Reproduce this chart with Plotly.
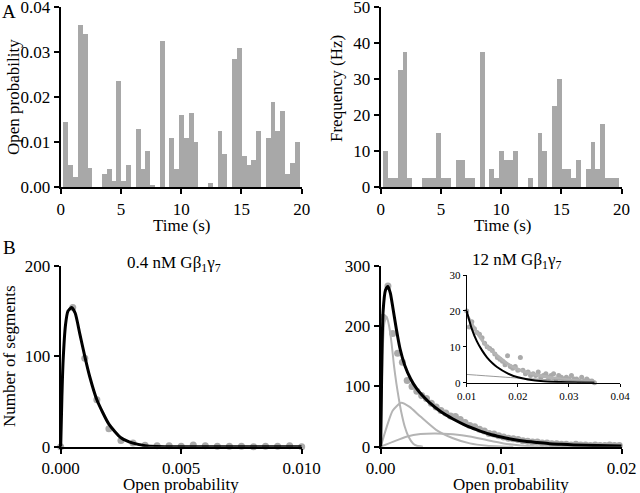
import plotly.graph_objects as go

# ---------------- Panel A data (0.4 s bins) ----------------
time_s = [round(0.4 * k, 1) for k in range(1, 51)]
open_prob = [0.0145, 0.0049, 0.0022, 0.0360, 0.0341, 0.0043, 0, 0,
             0.0029, 0.0039, 0.0013, 0.0235, 0.0013, 0.0049, 0,
             0.0129, 0.0039, 0.0079, 0.0003, 0,
             0.0325, 0,
             0.0109, 0.0039, 0.0159, 0.0109, 0.0164, 0.0099, 0, 0,
             0.0008, 0,
             0.0124, 0.0074, 0,
             0.0284, 0.0310, 0.0069, 0.0049, 0.0059, 0.0124, 0,
             0.0109, 0.0189, 0.0124, 0.0169, 0.0029, 0.0054, 0.0099, 0]
freq_hz = [10, 2.5, 2.5, 32.5, 37.5, 2.5, 0, 0,
           2.5, 2.5, 2.5, 15, 2.5, 2.5, 0,
           7.5, 7.5, 2.5, 2.5, 0,
           37.5, 0,
           5, 2.5, 10, 7.5, 7.5, 10, 0, 0,
           2.5, 0,
           15, 10, 0,
           22.5, 30, 5, 5, 2.5, 7.5, 0,
           5, 12.5, 5, 17.5, 2.5, 2.5, 2.5, 0]

# ---------------- Panel B left: 0.4 nM ----------------
po_low = [0.0, 0.0005, 0.001, 0.0015, 0.002, 0.0025, 0.003, 0.0035, 0.004, 0.0045,
          0.005, 0.0055, 0.006, 0.0065, 0.007, 0.0075, 0.008, 0.0085, 0.009, 0.0095, 0.01]
n_low = [0, 154, 98, 52, 20, 7, 4, 1.5, 1, 1,
         0.5, 2, 1, 0.5, 0.5, 0.5, 0, 0.5, 0.5, 1, 0]
fit_low_x = [0, 0.00005, 0.0001, 0.0002, 0.0003, 0.00045, 0.0006, 0.0008, 0.001, 0.0012,
             0.0015, 0.002, 0.0025, 0.003, 0.0035, 0.004, 0.005, 0.01]
fit_low_y = [0, 55, 95, 135, 150, 154, 148, 124, 100, 78,
             52, 25, 10, 4, 1.2, 0.3, 0, 0]

# ---------------- Panel B right: 12 nM ----------------
po_high = [round(0.0002 + 0.0004 * i, 4) for i in range(50)]
n_high = [215, 267, 188, 155, 140, 110, 100, 92, 85, 80,
          72, 66, 60, 56, 51, 50, 45, 40, 35, 33,
          29, 26, 22, 21, 18, 16, 14, 13, 12, 10,
          9, 8, 8, 6, 6, 5, 5, 4, 4, 3,
          4, 3, 3, 2, 3, 2, 2, 3, 2, 2]
fit_high_x = [0, 0.0001, 0.0002, 0.0004, 0.0006, 0.0008, 0.001, 0.0013, 0.0016, 0.002,
              0.0025, 0.003, 0.0035, 0.004, 0.005, 0.006, 0.007, 0.008, 0.009, 0.01,
              0.011, 0.012, 0.013, 0.014, 0.015, 0.016, 0.018, 0.02]
fit_high_y = [0, 150, 225, 260, 266, 255, 232, 195, 163, 135,
              112, 96, 84, 74, 58, 46, 36, 28, 21, 16,
              12, 9, 7, 5, 4, 3, 1.8, 1]
comp1_x = [0, 0.0001, 0.0002, 0.0003, 0.0005, 0.0007, 0.0009, 0.0011, 0.0013, 0.0015,
           0.0017, 0.002, 0.0023, 0.0027, 0.003, 0.0035]
comp1_y = [0, 110, 175, 205, 216, 200, 172, 135, 105, 80,
           58, 33, 17, 5, 1.5, 0]
comp2_x = [0, 0.0005, 0.001, 0.0017, 0.0024, 0.0033, 0.0046, 0.006, 0.0074, 0.0088, 0.01, 0.011]
comp2_y = [0, 33, 60, 73, 66, 50, 28, 14, 5.5, 1.7, 0.5, 0]
comp3_x = [0, 0.001, 0.0022, 0.0033, 0.0045, 0.006, 0.0074, 0.0088, 0.0102, 0.0116, 0.013, 0.015]
comp3_y = [0, 8, 17, 21, 22, 20.5, 17, 11, 5.5, 2, 0.5, 0]

# ---------------- Inset ----------------
inset_x = [round(0.01 + 0.0005 * i, 4) for i in range(51)]
inset_y = [20, 15.5, 17, 15, 14, 13.5, 12.5, 11, 10, 9.5,
           9, 8, 7, 6.5, 6, 5, 7.5, 4.5, 4, 4.5,
           3.5, 7, 3.5, 2.5, 3, 2, 2.5, 2, 3, 1.5,
           2, 2.5, 1.5, 2, 2.5, 1, 2, 1.5, 1, 1.5,
           1, 2, 1, 1, 0.5, 1.5, 0.5, 1, 0.5, 0.5, 0]
inset_fit_x = [0.01, 0.011, 0.012, 0.013, 0.014, 0.015, 0.016, 0.018, 0.02, 0.022, 0.025, 0.03, 0.035]
inset_fit_y = [20, 15, 11.5, 9, 7, 5.5, 4.3, 2.6, 1.5, 0.9, 0.4, 0.1, 0]
inset_gray_x = [0.01, 0.012, 0.014, 0.016, 0.018, 0.02, 0.022, 0.025, 0.028, 0.031, 0.035]
inset_gray_y = [19, 14, 10, 7.5, 5.3, 3.8, 2.8, 1.8, 1.1, 0.6, 0.1]
inset_thin_x = [0.01, 0.02, 0.03, 0.035]
inset_thin_y = [2.3, 1.3, 0.6, 0.3]

FONT = "Liberation Serif"
BAR = "#a8a8a8"
DOT = "#aaaaaa"
LGRAY = "#b4b4b4"

fig = go.Figure()

fig.add_trace(go.Bar(x=time_s, y=open_prob, width=0.4, marker=dict(color=BAR, line=dict(width=0)),
                     xaxis="x", yaxis="y"))
fig.add_trace(go.Bar(x=time_s, y=freq_hz, width=0.4, marker=dict(color=BAR, line=dict(width=0)),
                     xaxis="x2", yaxis="y2"))

fig.add_trace(go.Scatter(x=po_low, y=n_low, mode="markers", cliponaxis=False,
                         marker=dict(color=DOT, size=7), xaxis="x3", yaxis="y3"))
fig.add_trace(go.Scatter(x=fit_low_x, y=fit_low_y, mode="lines",
                         line=dict(color="black", width=3, shape="spline", smoothing=0.6),
                         xaxis="x3", yaxis="y3"))

fig.add_trace(go.Scatter(x=po_high, y=n_high, mode="markers", cliponaxis=False,
                         marker=dict(color=DOT, size=7), xaxis="x4", yaxis="y4"))
for cx, cy in [(comp1_x, comp1_y), (comp2_x, comp2_y), (comp3_x, comp3_y)]:
    fig.add_trace(go.Scatter(x=cx, y=cy, mode="lines",
                             line=dict(color=LGRAY, width=2, shape="spline", smoothing=0.6),
                             xaxis="x4", yaxis="y4"))
fig.add_trace(go.Scatter(x=fit_high_x, y=fit_high_y, mode="lines",
                         line=dict(color="black", width=3, shape="spline", smoothing=0.6),
                         xaxis="x4", yaxis="y4"))

fig.add_trace(go.Scatter(x=inset_x, y=inset_y, mode="markers", cliponaxis=False,
                         marker=dict(color=DOT, size=5), xaxis="x5", yaxis="y5"))
fig.add_trace(go.Scatter(x=inset_gray_x, y=inset_gray_y, mode="lines",
                         line=dict(color=LGRAY, width=3, shape="spline", smoothing=0.6),
                         xaxis="x5", yaxis="y5"))
fig.add_trace(go.Scatter(x=inset_thin_x, y=inset_thin_y, mode="lines",
                         line=dict(color="#999999", width=1, shape="spline", smoothing=0.6),
                         xaxis="x5", yaxis="y5"))
fig.add_trace(go.Scatter(x=inset_fit_x, y=inset_fit_y, mode="lines",
                         line=dict(color="black", width=2, shape="spline", smoothing=0.6),
                         xaxis="x5", yaxis="y5"))

W, H = 640, 493


def dx(a, b):
    return [a / W, b / W]


def dy(top, bottom):
    return [1 - bottom / H, 1 - top / H]


def ax(domain, rng, tickvals, fmt, anchor, size=17, lw=2, tl=5):
    return dict(domain=domain, range=rng, tickvals=tickvals, tickformat=fmt,
                showline=True, linecolor="black", linewidth=lw, ticks="outside",
                ticklen=tl, tickwidth=lw, tickcolor="black", showgrid=False, zeroline=False,
                automargin=False, ticklabeloverflow="allow", anchor=anchor,
                tickfont=dict(family=FONT, size=size, color="black"), fixedrange=True)


fig.update_layout(
    template="none",
    width=W, height=H, margin=dict(l=0, r=0, t=0, b=0, pad=0),
    paper_bgcolor="white", plot_bgcolor="rgba(0,0,0,0)",
    showlegend=False, bargap=0,
    font=dict(family=FONT, color="black"),
    xaxis=ax(dx(60.7, 301.7), [0, 20], [0, 5, 10, 15, 20], "d", "y"),
    yaxis=ax(dy(7.3, 187.3), [0, 0.04], [0, 0.01, 0.02, 0.03, 0.04], ".2f", "x"),
    xaxis2=ax(dx(380.7, 621.5), [0, 20], [0, 5, 10, 15, 20], "d", "y2"),
    yaxis2=ax(dy(7.3, 187.3), [0, 50], [0, 10, 20, 30, 40, 50], "d", "x2"),
    xaxis3=ax(dx(60.7, 301.7), [0, 0.01], [0, 0.005, 0.01], ".3f", "y3"),
    yaxis3=ax(dy(266, 446.7), [0, 200], [0, 100, 200], "d", "x3"),
    xaxis4=ax(dx(380.7, 621.7), [0, 0.02], [0, 0.01, 0.02], ".2f", "y4"),
    yaxis4=ax(dy(266, 446.7), [0, 300], [0, 100, 200, 300], "d", "x4"),
    xaxis5=ax(dx(466.7, 620), [0.01, 0.04], [0.01, 0.02, 0.03, 0.04], ".2f", "y5", size=11, lw=1, tl=3),
    yaxis5=ax(dy(275, 382.7), [0, 30], [0, 10, 20, 30], "d", "x5", size=11, lw=1, tl=3),
)


def ann(text, px, py, size=17, angle=0):
    fig.add_annotation(text=text, x=px / W, y=1 - py / H, xref="paper", yref="paper",
                       showarrow=False, textangle=angle, xanchor="center", yanchor="middle",
                       font=dict(family=FONT, size=size, color="black"))


ann("A", 9, 12, size=19)
ann("B", 9, 247, size=19)
ann("Open probability", 13, 97, angle=-90)
ann("Frequency (Hz)", 337, 89, angle=-90)
ann("Number of segments", 9, 356, angle=-90)
ann("Time (s)", 181, 225)
ann("Time (s)", 502, 225)
ann("Open probability", 181, 484)
ann("Open probability", 511, 484)
ann("0.4 nM Gβ<sub>1</sub>γ<sub>7</sub>", 174, 264)
ann("12 nM Gβ<sub>1</sub>γ<sub>7</sub>", 517, 261)

fig.write_html("out.html", config={"displayModeBar": False},
               post_script="document.body.style.margin='0px';document.body.style.overflow='hidden';")
